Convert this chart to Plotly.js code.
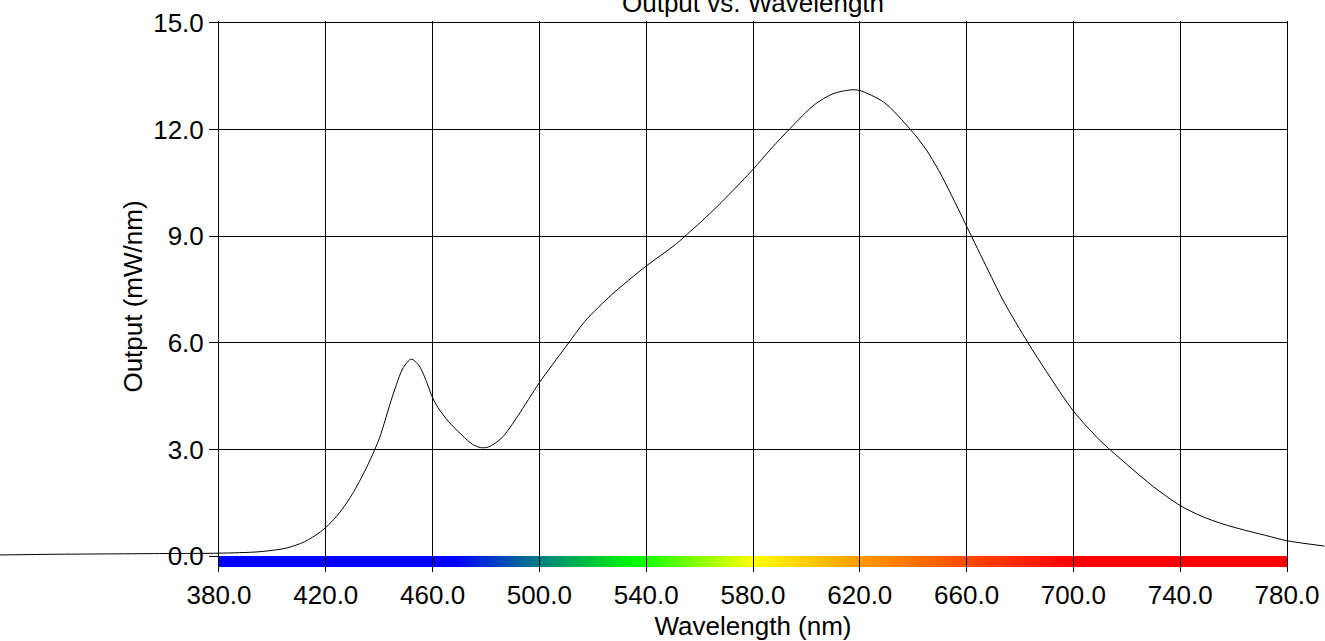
<!DOCTYPE html>
<html>
<head>
<meta charset="utf-8">
<script src="https://cdn.plot.ly/plotly-3.0.1.min.js"></script>
<style>html,body{margin:0;padding:0;background:#fff;}#chart{width:1325px;height:641px;}</style>
</head>
<body>
<div id="chart"></div>
<script>
// Spectrum data
const wavelength = [298, 320, 340, 360, 380, 395, 405, 412, 418, 422, 426, 430, 435, 440, 445, 449, 452, 455, 458, 460, 462, 466, 471, 475, 478, 481, 486, 492, 500, 510, 517, 527, 540, 551, 565, 571, 580, 587, 594, 603, 610, 617, 620, 629, 639, 645, 651, 660, 668, 674, 683, 690, 700, 710, 720, 730, 740, 748, 756, 764, 772, 780, 794];
const output = [0.03, 0.05, 0.06, 0.07, 0.08, 0.12, 0.22, 0.4, 0.68, 0.95, 1.3, 1.75, 2.45, 3.3, 4.5, 5.3, 5.54, 5.35, 4.85, 4.45, 4.18, 3.78, 3.4, 3.14, 3.05, 3.07, 3.33, 3.95, 4.88, 5.9, 6.6, 7.35, 8.16, 8.77, 9.72, 10.17, 10.88, 11.48, 12.04, 12.70, 13.01, 13.12, 13.10, 12.77, 12.0, 11.42, 10.65, 9.28, 8.05, 7.15, 6.0, 5.18, 4.08, 3.25, 2.58, 1.95, 1.42, 1.12, 0.9, 0.73, 0.58, 0.43, 0.28];

// Tick labels
const xTickVals = [380, 420, 460, 500, 540, 580, 620, 660, 700, 740, 780];
const xTickText = ["380.0", "420.0", "460.0", "500.0", "540.0", "580.0", "620.0", "660.0", "700.0", "740.0", "780.0"];
const yTickVals = [0, 3, 6, 9, 12, 15];
const yTickText = ["0.0", "3.0", "6.0", "9.0", "12.0", "15.0"];

// Visible spectrum colour bar stops
const spectrumStops = [380, 468, 500, 536, 580, 620, 660, 700, 780];
const spectrumColors = ["#0000ff", "#0000ff", "#008080", "#00ff00", "#ffff00", "#ff9a00", "#ff4a00", "#ff0000", "#ff0000"];
const spectrumEnds = [380, 780];
const barEdges = [-0.31, -0.155, 0];

const xMin = 380, xMax = 780, yMin = -0.45, yMax = 15.056;
const W = 1325, plotL = 219, plotR = 1287;
const pxPerNm = (plotR - plotL) / (xMax - xMin);
const fullRange = [xMin - plotL / pxPerNm, xMax + (W - plotR) / pxPerNm];

const colorscale = spectrumStops.map((s, i) => [(s - xMin) / (xMax - xMin), spectrumColors[i]]);

const font = {family: "Liberation Sans, Arial, sans-serif", size: 26, color: "#000"};

const traces = [
  {
    type: "heatmap",
    x: spectrumEnds,
    y: barEdges,
    z: [spectrumEnds, spectrumEnds],
    zmin: xMin, zmax: xMax,
    colorscale: colorscale,
    zsmooth: "best",
    showscale: false,
    hoverinfo: "skip",
    xaxis: "x", yaxis: "y"
  },
  {
    type: "scatter",
    mode: "lines",
    x: wavelength,
    y: output,
    line: {color: "#000", width: 1, shape: "spline", smoothing: 0.8},
    xaxis: "x3", yaxis: "y3",
    hoverinfo: "skip"
  }
];

const layout = {
  width: 1325, height: 641,
  margin: {l: 0, r: 0, t: 21, b: 69},
  paper_bgcolor: "#fff",
  plot_bgcolor: "rgba(0,0,0,0)",
  showlegend: false,
  font: font,
  title: {
    text: "Output vs. Wavelength",
    font: font,
    x: (plotL + plotR) / 2 / W, xref: "paper", xanchor: "center",
    y: 1 - 12 / 641, yref: "container", yanchor: "bottom"
  },
  xaxis: {
    domain: [plotL / W, plotR / W],
    range: [xMin, xMax],
    tickmode: "array", tickvals: xTickVals, ticktext: xTickText,
    ticks: "inside", ticklen: 16, tickcolor: "#000", tickwidth: 1,
    ticklabelstandoff: 5,
    showgrid: true, gridcolor: "#000", gridwidth: 1,
    zeroline: false, showline: false,
    tickfont: font,
    title: {text: "Wavelength (nm)", font: font, standoff: 9},
    anchor: "y", fixedrange: true
  },
  yaxis: {
    domain: [0, 1],
    range: [yMin, yMax],
    tickmode: "array", tickvals: yTickVals, ticktext: yTickText,
    ticks: "outside", ticklen: 9, tickcolor: "#000", tickwidth: 1,
    showgrid: true, gridcolor: "#000", gridwidth: 1,
    zeroline: true, zerolinecolor: "#000", zerolinewidth: 1,
    showline: true, linecolor: "#000", linewidth: 1, mirror: true,
    tickfont: font,
    title: {text: "Output (mW/nm)", font: font, standoff: 3},
    anchor: "x", fixedrange: true
  },
  xaxis3: {
    domain: [0, 1], range: fullRange, anchor: "y3",
    visible: false, fixedrange: true
  },
  yaxis3: {
    domain: [0, 1], range: [yMin, yMax], anchor: "x3",
    visible: false, fixedrange: true
  }
};

Plotly.newPlot("chart", traces, layout, {staticPlot: true, displayModeBar: false});
</script>
</body>
</html>
